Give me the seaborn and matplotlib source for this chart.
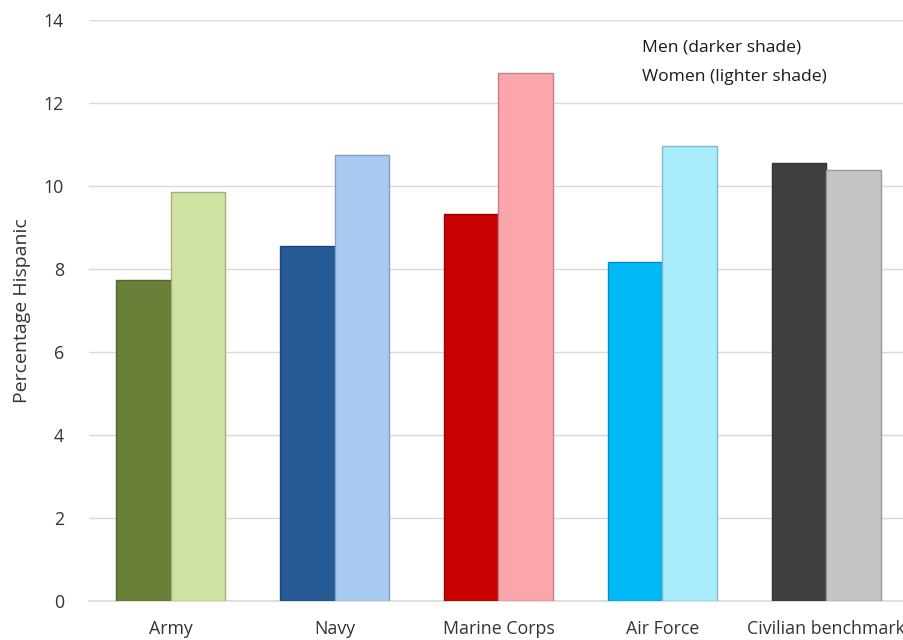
import matplotlib
matplotlib.use("Agg")
import matplotlib.pyplot as plt
import seaborn as sns
import pandas as pd

categories = ["Army", "Navy", "Marine Corps", "Air Force", "Civilian benchmark"]
men = [7.73, 8.56, 9.33, 8.17, 10.55]
women = [9.85, 10.75, 12.72, 10.96, 10.39]
men_colors = ["#6A7F37", "#265A94", "#C80000", "#00B8F5", "#404040"]
women_colors = ["#D0E2A3", "#A9CAF0", "#FBA6AB", "#A8EDFB", "#C4C4C4"]
yticks = [0, 2, 4, 6, 8, 10, 12, 14]

sns.set_theme(style="white")
plt.rcParams["font.family"] = ["Open Sans", "DejaVu Sans"]

df = pd.DataFrame({
    "category": categories * 2,
    "value": men + women,
    "sex": ["Men"] * len(categories) + ["Women"] * len(categories),
})

fig = plt.figure(figsize=(9.04, 6.4), dpi=100)
ax = fig.add_axes([89 / 904, 1 - 601 / 640, (908 - 89) / 904, (601 - 20) / 640])

sns.barplot(data=df, x="category", y="value", hue="sex", order=categories,
            hue_order=["Men", "Women"], width=0.665, ax=ax, legend=False,
            saturation=1, zorder=3)

def darker(c, f=0.78):
    r, g, b = matplotlib.colors.to_rgb(c)
    return (r * f, g * f, b * f)

for cont, cols in zip(ax.containers, [men_colors, women_colors]):
    for bar, col in zip(cont, cols):
        bar.set_facecolor(col)
        bar.set_edgecolor(darker(col))
        bar.set_linewidth(1.0)

ax.set_ylim(0, 14)
ax.set_xlim(-0.5, 4.5)
ax.set_yticks(yticks)
ax.set_yticklabels([str(v) for v in yticks])
ax.yaxis.grid(True, color="#D9D9D9", linewidth=1, zorder=0)
ax.set_axisbelow(True)
for s in ["top", "right", "left"]:
    ax.spines[s].set_visible(False)
ax.spines["bottom"].set_color("#D9D9D9")
ax.spines["bottom"].set_linewidth(1.2)
ax.tick_params(axis="y", length=0, pad=18, labelsize=12.8, labelcolor="#333333")
ax.tick_params(axis="x", length=0, pad=14, labelsize=12.8, labelcolor="#333333")
ax.set_xlabel("")
ax.set_ylabel("Percentage Hispanic", fontsize=14, color="#333333", labelpad=9)

fig.text(642 / 904, 1 - 48 / 640, "Men (darker shade)", fontsize=12.6,
         color="#1a1a1a", va="center", ha="left")
fig.text(642 / 904, 1 - 77 / 640, "Women (lighter shade)", fontsize=12.6,
         color="#1a1a1a", va="center", ha="left")

fig.savefig("out.png", dpi=100)
